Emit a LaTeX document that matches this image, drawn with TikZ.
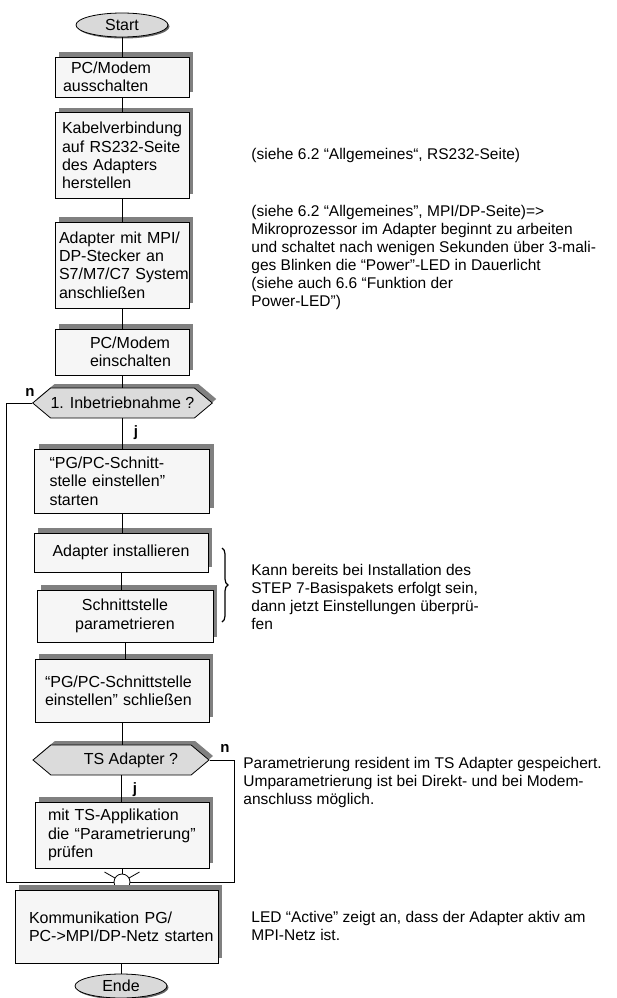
\documentclass[tikz,border=0pt]{standalone}
\usepackage{fontspec}
\setmainfont{Liberation Sans}
\usetikzlibrary{shapes.geometric,shapes.symbols,shadows,decorations.pathreplacing}
\tikzset{
  boxfont/.style={font={\fontsize{16}{18.3}\selectfont}},
  box/.style={boxfont,draw,fill=gray!7,inner sep=0pt,
    execute at begin node={\hyphenpenalty=10000\relax\exhyphenpenalty=10000\relax},
    general shadow={fill=black!50,shadow xshift=4pt,shadow yshift=5pt}},
  lbox/.style={box,align=left},
  cbox/.style={box,align=center},
  term/.style={boxfont,ellipse,draw,fill=gray!30,inner sep=0pt,minimum width=92,minimum height=24,
    general shadow={fill=black!60,shadow xshift=1.5pt,shadow yshift=-1.5pt}},
  query/.style={boxfont,signal,signal to=west and east,signal pointer angle=80,draw,fill=gray!28,
    inner sep=0pt,minimum width=176,minimum height=30,
    general shadow={fill=black!50,shadow xshift=4pt,shadow yshift=4pt}},
  yn/.style={font={\fontsize{15}{15}\selectfont\bfseries},inner sep=0pt},
  note/.style={font={\fontsize{15.5}{18}\selectfont},align=left,anchor=west,inner sep=0pt},
}
\begin{document}
\begin{tikzpicture}[x=1pt,y=-1pt,line width=.8pt]
\useasboundingbox (0,0) rectangle (616,998);
% main column
\node[term](st)at(122,25){Start};
\node[lbox,minimum width=134,minimum height=40,text width=118](b1)at(122,77){\hspace*{8pt}PC/Modem\\ausschalten};
\node[lbox,minimum width=134,minimum height=86,text width=120](b2)at(122,155.5){Kabelverbindung\\auf RS232-Seite\\des Adapters\\herstellen};
\node[lbox,minimum width=134,minimum height=86,text width=126](b3)at(122,265){Adapter mit MPI/\\DP-Stecker an\\S7/M7/C7~System\\anschließen};
\node[lbox,minimum width=134,minimum height=46,text width=64](b4)at(122,352){PC/Modem\\einschalten};
\node[query](d1)at(122.5,403){1. Inbetriebnahme ?};
\node[lbox,minimum width=175,minimum height=64,text width=145](b5)at(122,481){“PG/PC-Schnitt-\\stelle einstellen”\\starten};
\node[cbox,minimum width=174,minimum height=39](b6)at(121,552.5){Adapter installieren};
\node[cbox,minimum width=176,minimum height=52](b7)at(125,616){Schnittstelle\\parametrieren};
\node[lbox,minimum width=174,minimum height=63,text width=154](b8)at(122,690.5){“PG/PC-Schnittstelle\\einstellen” schließen};
\node[query](d2)at(121,760){\hspace*{20pt}TS Adapter ?};
\node[lbox,minimum width=174,minimum height=66,text width=148](b9)at(122,835){mit TS-Applikation\\die “Parametrierung”\\prüfen};
\coordinate(jc)at(122,882);
\draw(jc)++(-17.5,-10)--++(35,20) (jc)++(-17.5,10)--++(35,-20);
\node[circle,draw,fill=white,minimum size=16,inner sep=0pt](jn)at(jc){};
\node[lbox,minimum width=203,minimum height=73,text width=175](b10)at(116.5,926.5){Kommunikation PG/\\PC->MPI/DP-Netz~starten};
\node[term](en)at(121,986){Ende};
% connectors
\foreach\a/\b in{st/b1,b1/b2,b2/b3,b3/b4,b4/d1,d1/b5,b5/b6,b6/b7,b7/b8,b8/d2,d2/b9,b9/jn,jn/b10}{\draw(\a.south)--(\a.south|-\b.north);}
\draw(en.north)--(en.north|-b10.south);
\draw(d1.west)--++(-26,0)|-(jn.west);
\draw(d2.east)--++(25,0)|-(jn.east);
\node[yn](n1)at(30,392){n};
\node[yn](j1)at(136,433){j};
\node[yn](n2)at(225,748){n};
\node[yn](j2)at(135,790){j};
% notes
\node[note](t1)at(251,155){(siehe 6.2 “Allgemeines“, RS232-Seite)};
\node[note](t2)at(251,257){(siehe 6.2 “Allgemeines”, MPI/DP-Seite)=>\\Mikroprozessor im Adapter beginnt zu arbeiten\\und schaltet nach wenigen Sekunden über 3-mali-\\ges Blinken die “Power”-LED in Dauerlicht\\(siehe auch 6.6 “Funktion der\\Power-LED”)};
\draw[decorate,decoration={brace,amplitude=6pt},line width=1.2pt](222,548)--(222,622);
\node[note](t3)at(251,597){Kann bereits bei Installation des\\STEP 7-Basispakets erfolgt sein,\\dann jetzt Einstellungen überprü-\\fen};
\node[note](t4)at(243,782){Parametrierung resident im TS Adapter gespeichert.\\Umparametrierung ist bei Direkt- und bei Modem-\\anschluss möglich.};
\node[note](t5)at(251,926){LED “Active” zeigt an, dass der Adapter aktiv am\\MPI-Netz ist.};
\end{tikzpicture}
\end{document}
